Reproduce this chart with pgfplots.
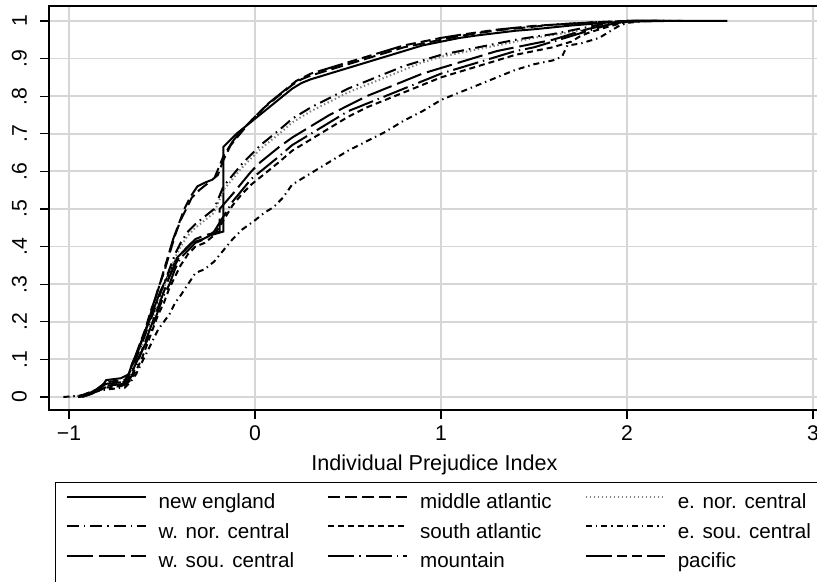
\documentclass[border=0pt]{standalone}
\usepackage{fontspec}
\setmainfont{Liberation Sans}
\usepackage{pgfplots}
\pgfplotsset{compat=1.18}

\newcommand{\lblfont}{\fontsize{10.8}{13}\selectfont}
\newcommand{\tckfont}{\fontsize{10.6}{12}\selectfont}
\newcommand{\legfont}{\fontsize{10.3}{12}\selectfont}

\begin{document}
\begin{tikzpicture}
\begin{axis}[
  name=ax,
  scale only axis, width=385.5pt, height=202pt,
  xmin=-1.1075, xmax=3.0376, ymin=-0.0346, ymax=1.0399,
  axis line style={line width=0.6pt},
  xtick={-1,0,1,2,3}, xticklabels={−1,0,1,2,3},
  ytick={0,0.1,0.2,0.3,0.4,0.5,0.6,0.7,0.8,0.9,1},
  yticklabels={0,.1,.2,.3,.4,.5,.6,.7,.8,.9,1},
  tick align=outside, tick pos=left, major tick length=4.5pt,
  tick style={black, line width=0.6pt},
  grid=major, grid style={black!16, line width=0.9pt},
  yticklabel style={rotate=90, anchor=south, font=\tckfont},
  yticklabel shift=3pt,
  xticklabel style={font=\tckfont},
  xlabel={Individual Prejudice Index}, xlabel style={font=\lblfont},
  every axis plot/.append style={black, line width=1pt},
  legend columns=3, legend cell align=left,
  legend image code/.code={\draw[#1] (0pt,3.4pt) -- (39.5pt,3.4pt);},
  legend style={
    at={(0.0078,-0.178)}, anchor=north west,
    draw=black, line width=0.6pt, font=\legfont,
    inner xsep=5pt, inner ysep=5.5pt, row sep=4.75pt,
    nodes={inner sep=0pt, text height=7.5pt, text depth=2.5pt},
    /tikz/every odd column/.append style={column sep=6pt},
    /tikz/every even column/.append style={column sep=16.5pt},
  },
]
% new england
\addplot[solid] coordinates {(-0.95,0) (-0.9,0.005) (-0.86,0.015) (-0.82,0.03) (-0.8,0.045) (-0.72,0.05) (-0.68,0.06) (-0.66,0.09) (-0.63,0.12) (-0.6,0.16) (-0.57,0.2) (-0.54,0.24) (-0.51,0.28) (-0.48,0.31) (-0.45,0.34) (-0.42,0.37) (-0.38,0.39) (-0.34,0.41) (-0.28,0.42) (-0.24,0.43) (-0.17,0.44) (-0.17,0.665) (-0.14,0.68) (-0.1,0.7) (-0.05,0.72) (0,0.74) (0.05,0.76) (0.1,0.78) (0.15,0.8) (0.2,0.82) (0.25,0.835) (0.3,0.845) (0.4,0.86) (0.5,0.875) (0.6,0.89) (0.7,0.905) (0.8,0.92) (0.9,0.935) (1.0,0.945) (1.1,0.955) (1.2,0.962) (1.3,0.968) (1.4,0.974) (1.5,0.978) (1.6,0.983) (1.7,0.988) (1.8,0.992) (1.9,0.996) (2.0,0.998) (2.2,1) (2.54,1)};
\addlegendentry{new england}
% middle atlantic
\addplot[dash pattern=on 6pt off 2.5pt] coordinates {(-0.95,0) (-0.9,0.01) (-0.85,0.02) (-0.8,0.035) (-0.7,0.04) (-0.67,0.07) (-0.64,0.11) (-0.61,0.15) (-0.58,0.19) (-0.55,0.24) (-0.52,0.29) (-0.49,0.33) (-0.46,0.38) (-0.43,0.43) (-0.4,0.47) (-0.37,0.5) (-0.34,0.53) (-0.3,0.55) (-0.25,0.57) (-0.2,0.59) (-0.17,0.63) (-0.13,0.67) (-0.08,0.7) (-0.03,0.73) (0,0.745) (0.05,0.77) (0.1,0.79) (0.15,0.81) (0.2,0.83) (0.25,0.845) (0.3,0.855) (0.4,0.87) (0.5,0.885) (0.6,0.9) (0.7,0.915) (0.8,0.93) (0.9,0.94) (1.0,0.95) (1.1,0.96) (1.2,0.968) (1.3,0.975) (1.4,0.98) (1.5,0.985) (1.6,0.99) (1.7,0.993) (1.8,0.996) (1.9,0.998) (2.0,1) (2.2,1)};
\addlegendentry{middle atlantic}
% e. nor. central
\addplot[black!50, dash pattern=on 0.7pt off 1.3pt] coordinates {(-1.0,0) (-0.95,0.003) (-0.9,0.01) (-0.85,0.02) (-0.8,0.03) (-0.7,0.035) (-0.67,0.06) (-0.64,0.09) (-0.61,0.13) (-0.58,0.17) (-0.55,0.21) (-0.52,0.25) (-0.49,0.29) (-0.46,0.33) (-0.43,0.37) (-0.4,0.4) (-0.36,0.43) (-0.32,0.45) (-0.27,0.47) (-0.22,0.49) (-0.17,0.55) (-0.12,0.58) (-0.07,0.61) (-0.02,0.635) (0.03,0.66) (0.08,0.68) (0.13,0.7) (0.2,0.73) (0.3,0.76) (0.4,0.785) (0.5,0.81) (0.6,0.83) (0.7,0.85) (0.8,0.87) (0.9,0.89) (1.0,0.905) (1.1,0.915) (1.2,0.925) (1.3,0.935) (1.4,0.945) (1.5,0.955) (1.6,0.963) (1.7,0.97) (1.8,0.98) (1.9,0.99) (2.0,1) (2.2,1)};
\addlegendentry{e. nor. central}
% w. nor. central
\addplot[dash pattern=on 6pt off 2.5pt on 0.8pt off 2.5pt] coordinates {(-0.95,0) (-0.9,0.01) (-0.85,0.02) (-0.8,0.035) (-0.7,0.04) (-0.67,0.065) (-0.64,0.1) (-0.61,0.14) (-0.58,0.18) (-0.55,0.22) (-0.52,0.26) (-0.49,0.3) (-0.46,0.34) (-0.43,0.38) (-0.4,0.41) (-0.36,0.44) (-0.32,0.46) (-0.27,0.48) (-0.22,0.5) (-0.17,0.56) (-0.12,0.59) (-0.07,0.62) (-0.02,0.645) (0.03,0.67) (0.08,0.69) (0.13,0.71) (0.2,0.74) (0.3,0.77) (0.4,0.795) (0.5,0.82) (0.6,0.84) (0.7,0.86) (0.8,0.88) (0.9,0.895) (1.0,0.91) (1.1,0.92) (1.2,0.93) (1.3,0.94) (1.4,0.95) (1.5,0.958) (1.6,0.965) (1.7,0.975) (1.8,0.985) (1.9,0.995) (2.0,1) (2.1,1)};
\addlegendentry{w. nor. central}
% south atlantic
\addplot[dash pattern=on 3pt off 2pt] coordinates {(-0.95,0) (-0.9,0.005) (-0.85,0.015) (-0.8,0.025) (-0.7,0.03) (-0.67,0.045) (-0.64,0.07) (-0.61,0.1) (-0.58,0.14) (-0.55,0.18) (-0.52,0.22) (-0.49,0.25) (-0.46,0.29) (-0.43,0.32) (-0.4,0.35) (-0.36,0.38) (-0.32,0.4) (-0.27,0.41) (-0.22,0.43) (-0.17,0.47) (-0.12,0.51) (-0.07,0.54) (-0.02,0.565) (0.03,0.585) (0.08,0.605) (0.13,0.625) (0.2,0.655) (0.3,0.685) (0.4,0.715) (0.5,0.745) (0.6,0.77) (0.7,0.79) (0.8,0.81) (0.9,0.83) (1.0,0.85) (1.1,0.865) (1.2,0.88) (1.3,0.895) (1.4,0.91) (1.5,0.92) (1.6,0.93) (1.7,0.945) (1.75,0.96) (1.8,0.97) (1.9,0.985) (2.0,0.998) (2.05,1) (2.2,1)};
\addlegendentry{south atlantic}
% e. sou. central
\addplot[dash pattern=on 3pt off 2pt on 0.7pt off 2pt] coordinates {(-1.03,0) (-0.95,0.003) (-0.9,0.008) (-0.85,0.015) (-0.8,0.02) (-0.7,0.025) (-0.67,0.04) (-0.64,0.06) (-0.61,0.09) (-0.58,0.12) (-0.55,0.15) (-0.52,0.18) (-0.49,0.2) (-0.46,0.22) (-0.43,0.25) (-0.4,0.27) (-0.36,0.3) (-0.32,0.33) (-0.27,0.34) (-0.22,0.36) (-0.17,0.39) (-0.12,0.42) (-0.07,0.445) (0,0.47) (0.05,0.49) (0.1,0.505) (0.15,0.53) (0.2,0.565) (0.25,0.58) (0.3,0.595) (0.4,0.625) (0.5,0.655) (0.6,0.68) (0.7,0.705) (0.8,0.735) (0.9,0.76) (1.0,0.79) (1.1,0.81) (1.2,0.83) (1.3,0.85) (1.4,0.87) (1.5,0.885) (1.6,0.895) (1.65,0.905) (1.68,0.935) (1.75,0.94) (1.85,0.955) (1.9,0.97) (1.95,0.985) (2.0,0.995) (2.1,1) (2.3,1)};
\addlegendentry{e. sou. central}
% w. sou. central
\addplot[dash pattern=on 13pt off 3pt] coordinates {(-0.95,0) (-0.9,0.008) (-0.85,0.02) (-0.8,0.03) (-0.7,0.035) (-0.67,0.055) (-0.64,0.09) (-0.61,0.12) (-0.58,0.16) (-0.55,0.2) (-0.52,0.24) (-0.49,0.28) (-0.46,0.32) (-0.43,0.35) (-0.4,0.38) (-0.36,0.4) (-0.32,0.42) (-0.27,0.43) (-0.19,0.44) (-0.19,0.5) (-0.12,0.54) (-0.07,0.57) (-0.02,0.6) (0.03,0.625) (0.08,0.645) (0.13,0.665) (0.2,0.69) (0.3,0.72) (0.4,0.75) (0.5,0.775) (0.6,0.8) (0.7,0.82) (0.8,0.84) (0.9,0.86) (1.0,0.875) (1.1,0.89) (1.2,0.905) (1.3,0.92) (1.4,0.93) (1.5,0.94) (1.6,0.95) (1.7,0.965) (1.8,0.98) (1.9,0.99) (2.0,1) (2.2,1)};
\addlegendentry{w. sou. central}
% mountain
\addplot[dash pattern=on 13pt off 2.5pt on 0.7pt off 2.5pt] coordinates {(-0.93,0) (-0.88,0.008) (-0.83,0.02) (-0.78,0.03) (-0.7,0.032) (-0.67,0.05) (-0.64,0.08) (-0.61,0.12) (-0.58,0.15) (-0.55,0.19) (-0.52,0.23) (-0.49,0.27) (-0.46,0.3) (-0.43,0.34) (-0.4,0.37) (-0.36,0.39) (-0.32,0.41) (-0.27,0.42) (-0.22,0.44) (-0.17,0.48) (-0.12,0.52) (-0.07,0.55) (-0.02,0.58) (0.03,0.6) (0.08,0.62) (0.13,0.64) (0.2,0.67) (0.3,0.7) (0.4,0.73) (0.5,0.76) (0.6,0.78) (0.7,0.8) (0.8,0.82) (0.9,0.84) (1.0,0.86) (1.1,0.875) (1.2,0.89) (1.3,0.905) (1.4,0.92) (1.5,0.93) (1.6,0.945) (1.7,0.96) (1.8,0.975) (1.9,0.99) (2.0,1) (2.2,1)};
\addlegendentry{mountain}
% pacific
\addplot[dash pattern=on 13pt off 2.5pt on 5pt off 2.5pt on 5pt off 2.5pt] coordinates {(-0.93,0) (-0.88,0.01) (-0.84,0.025) (-0.8,0.04) (-0.7,0.045) (-0.68,0.06) (-0.65,0.1) (-0.62,0.14) (-0.59,0.18) (-0.56,0.23) (-0.53,0.27) (-0.5,0.32) (-0.47,0.37) (-0.44,0.42) (-0.41,0.46) (-0.38,0.5) (-0.35,0.53) (-0.31,0.56) (-0.27,0.57) (-0.22,0.58) (-0.17,0.64) (-0.12,0.68) (-0.07,0.71) (-0.02,0.735) (0.02,0.755) (0.07,0.78) (0.12,0.8) (0.17,0.82) (0.22,0.84) (0.3,0.86) (0.4,0.875) (0.5,0.89) (0.6,0.905) (0.7,0.92) (0.8,0.935) (0.9,0.945) (1.0,0.955) (1.1,0.963) (1.2,0.97) (1.3,0.977) (1.4,0.982) (1.5,0.987) (1.6,0.99) (1.7,0.993) (1.8,0.996) (1.9,0.998) (2.0,1) (2.3,1)};
\addlegendentry{pacific}
\end{axis}
\pgfresetboundingbox
\path[use as bounding box] ([xshift=-24.5pt,yshift=-86pt]ax.south west) rectangle ([xshift=384pt,yshift=205pt]ax.south west);
\end{tikzpicture}
\end{document}
